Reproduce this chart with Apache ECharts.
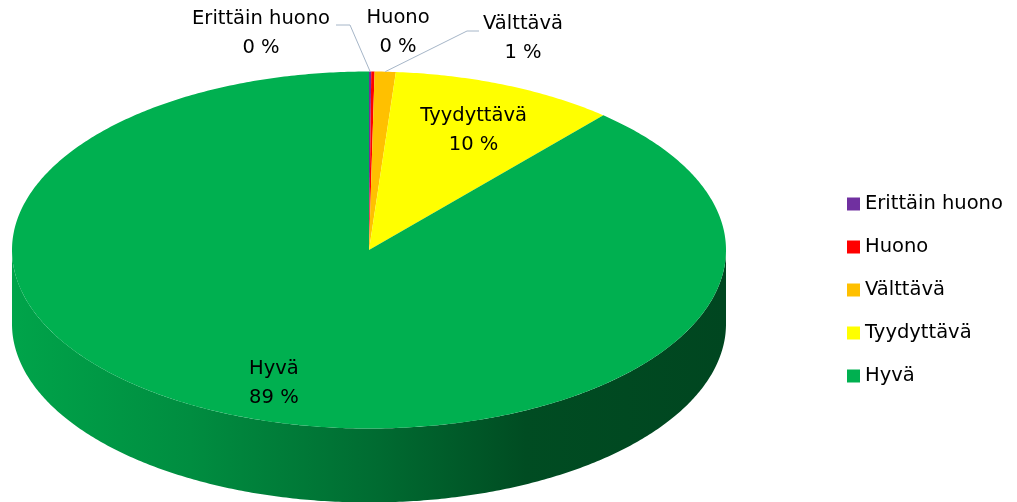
<!DOCTYPE html>
<html>
<head>
<meta charset="utf-8">
<script src="https://cdn.jsdelivr.net/npm/echarts@6/dist/echarts.min.js"></script>
<style>
html, body { margin: 0; padding: 0; background: #fff; }
#chart { width: 1017px; height: 502px; }
</style>
</head>
<body>
<div id="chart"></div>
<script>
// luokat ja osuudet (%)
var categories = ['Erittäin huono', 'Huono', 'Välttävä', 'Tyydyttävä', 'Hyvä'];
var values = [0.1, 0.15, 0.95, 10.2, 88.6];
var colors = ['#7030a0', '#ff0000', '#ffc000', '#ffff00', '#00b050'];

// 3D-piirakan mitat
var CX = 369, CY = 250, RX = 357, RY = 178.5, DEPTH = 74;
var FONT = '"DejaVu Sans", sans-serif';
// pienten sektorien ulkopuoliset otsikot (keskipiste + johtoviiva)
var outsideLabels = [
	{ x: 261, y: 33, elbow: [350, 25], end: [336, 25] },
	{ x: 398, y: 32 },
	{ x: 523, y: 38, elbow: [467, 31], end: [479, 31] },
	null,
	null
];

var total = values.reduce(function(a, b) { return a + b; }, 0);
var starts = [];
var acc = 0;
values.forEach(function(v) { starts.push(acc); acc += v; });

function pt(theta, dy, f) {
	f = f == null ? 1 : f;
	return [CX + RX * f * Math.sin(theta), CY - RY * f * Math.cos(theta) + dy];
}

function arc(a0, a1, dy) {
	var n = Math.max(2, Math.ceil((a1 - a0) / 0.01));
	var pts = [];
	for (var k = 0; k <= n; k++) {
		pts.push(pt(a0 + (a1 - a0) * k / n, dy));
	}
	return pts;
}

function shade(hex, f) {
	var c = echarts.color.parse(hex);
	return 'rgb(' + Math.round(c[0] * f) + ',' + Math.round(c[1] * f) + ',' + Math.round(c[2] * f) + ')';
}

function renderSlice(params, api) {
	var a0 = api.value(0) / total * 2 * Math.PI;
	var a1 = api.value(1) / total * 2 * Math.PI;
	var idx = api.value(2);
	var color = api.visual('color');
	var children = [];

	// etuseinämä
	var w0 = Math.max(a0, Math.PI / 2), w1 = Math.min(a1, Math.PI * 1.5);
	if (w1 > w0) {
		var wall = arc(w0, w1, 0).concat(arc(w0, w1, DEPTH).reverse());
		children.push({
			type: 'polygon',
			shape: { points: wall },
			style: {
				fill: new echarts.graphic.LinearGradient(0, 0, 1, 0, [
					{ offset: 0, color: shade(color, 0.93) },
					{ offset: 0.25, color: shade(color, 0.8) },
					{ offset: 0.5, color: shade(color, 0.62) },
					{ offset: 0.72, color: shade(color, 0.43) },
					{ offset: 1, color: shade(color, 0.4) }
				])
			}
		});
	}

	// yläpinta
	children.push({
		type: 'polygon',
		shape: { points: [[CX, CY]].concat(arc(a0, a1, 0)) },
		style: { fill: color }
	});

	// otsikko
	var pct = Math.round((api.value(1) - api.value(0)) / total * 100);
	var text = categories[idx] + '\n' + pct + ' %';
	var mid = (a0 + a1) / 2;
	var lx, ly;
	var o = outsideLabels[idx];
	if (o) {
		lx = o.x; ly = o.y;
		if (o.elbow) {
			children.push({
				type: 'polyline',
				shape: { points: [pt(mid, 0), o.elbow, o.end] },
				style: { stroke: '#a6b6c8', lineWidth: 1, fill: null }
			});
		}
	} else {
		var p = pt(mid, 6, 0.76);
		lx = p[0]; ly = p[1];
	}
	children.push({
		type: 'text',
		x: lx,
		y: ly,
		style: {
			text: text,
			fill: '#000',
			font: '19.5px ' + FONT,
			align: 'center',
			verticalAlign: 'middle',
			lineHeight: 29
		}
	});

	return { type: 'group', children: children };
}

var myChart = echarts.init(document.getElementById('chart'));
var option = {
	backgroundColor: '#fff',
	animation: false,
	legend: {
		orient: 'vertical',
		left: 847,
		top: 194,
		padding: 0,
		icon: 'rect',
		itemWidth: 13,
		itemHeight: 13,
		itemGap: 23,
		textStyle: { fontFamily: FONT, fontSize: 19.5, color: '#000' },
		data: categories
	},
	series: categories.map(function(name, i) {
		return {
			type: 'custom',
			name: name,
			coordinateSystem: 'none',
			itemStyle: { color: colors[i] },
			renderItem: renderSlice,
			data: [[starts[i], starts[i] + values[i], i]]
		};
	})
};
myChart.setOption(option);
</script>
</body>
</html>
